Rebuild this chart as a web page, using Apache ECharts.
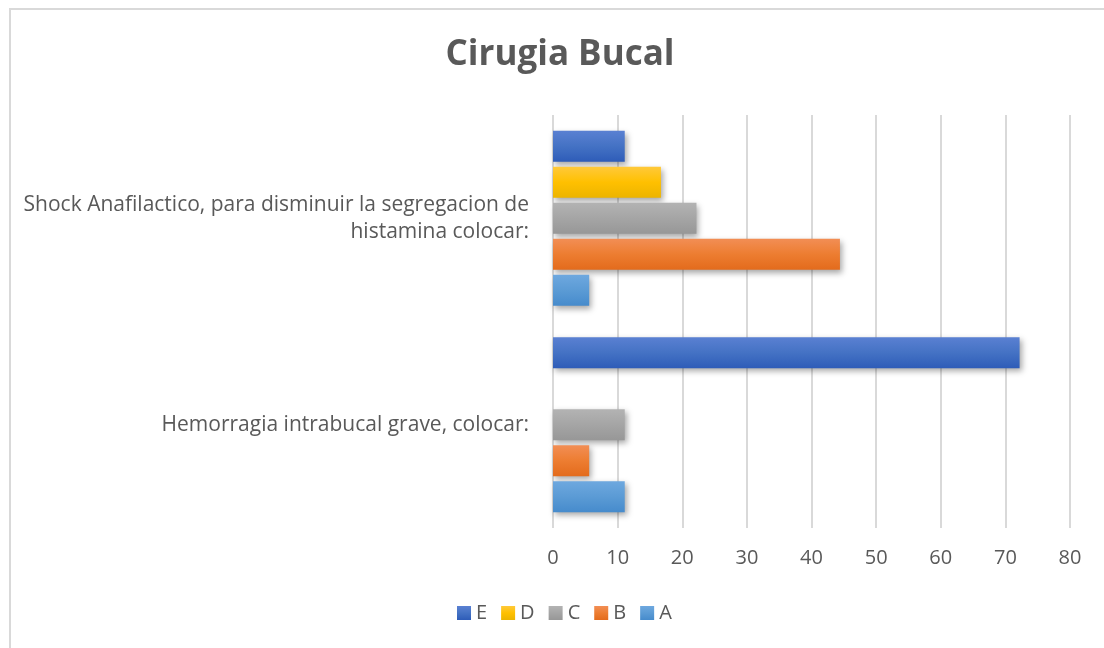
<!DOCTYPE html>
<html>
<head>
<meta charset="utf-8">
<script src="https://cdn.jsdelivr.net/npm/echarts@6/dist/echarts.min.js"></script>
<style>
html,body{margin:0;padding:0;background:#fff;}
#frame{position:absolute;left:9px;top:8px;width:1110px;height:660px;border:2px solid #d9d9d9;box-sizing:border-box;}
#chart{position:absolute;left:0;top:0;width:1104px;height:648px;}
</style>
</head>
<body>
<div id="frame"></div>
<div id="chart"></div>
<script>
const categories = ['Hemorragia intrabucal grave, colocar:', 'Shock Anafilactico, para disminuir la segregacion de\nhistamina colocar:'];
const seriesNames = ['E', 'D', 'C', 'B', 'A'];
const valuesE = [72.2, 11.1];
const valuesD = [0, 16.7];
const valuesC = [11.1, 22.2];
const valuesB = [5.6, 44.4];
const valuesA = [11.1, 5.6];
const xTicks = [0, 10, 20, 30, 40, 50, 60, 70, 80];

const seriesValues = [valuesE, valuesD, valuesC, valuesB, valuesA];
const colors = [
  ['#5a80d2', '#4472c4', '#2e5cb8'],
  ['#ffc93a', '#ffc000', '#ecb400'],
  ['#b3b3b3', '#a5a5a5', '#979797'],
  ['#f28e55', '#ed7d31', '#e36b1c'],
  ['#6ea8df', '#5b9bd5', '#468bcc']
];
const FONT = 'Open Sans';
const chart = echarts.init(document.getElementById('chart'), null, {renderer: 'canvas'});
chart.setOption({
  backgroundColor: 'transparent',
  animation: false,
  title: {
    text: 'Cirugia Bucal',
    left: 555, top: 33, textAlign: 'center',
    textStyle: {fontFamily: 'Open Sans', fontWeight: 'bold', fontSize: 35, color: '#595959'}
  },
  legend: {
    data: seriesNames,
    left: 452, top: 598,
    itemWidth: 14, itemHeight: 14, itemGap: 14,
    textStyle: {fontFamily: FONT, fontSize: 20, color: '#595959'},
    icon: 'rect'
  },
  grid: {left: 553, right: 34, top: 115, bottom: 120, containLabel: false},
  xAxis: {
    type: 'value', min: 0, max: 80, interval: 10,
    axisLine: {show: false}, axisTick: {show: false},
    splitLine: {show: true, lineStyle: {color: '#d9d9d9', width: 2}},
    axisLabel: {fontFamily: FONT, fontSize: 20, color: '#595959', margin: 20,
      formatter: v => xTicks.includes(v) ? String(v) : ''}
  },
  yAxis: {
    type: 'category', data: categories,
    axisLine: {show: false}, axisTick: {show: false},
    axisLabel: {fontFamily: FONT, fontSize: 21, color: '#595959', margin: 24, lineHeight: 27, align: 'right'}
  },
  series: seriesNames.map((n, i) => ({
    name: n, type: 'bar', data: seriesValues[i],
    barWidth: 31, barGap: '16%', barCategoryGap: '16%',
    itemStyle: {
      color: new echarts.graphic.LinearGradient(0, 0, 0, 1, [
        {offset: 0, color: colors[i][0]},
        {offset: 0.5, color: colors[i][1]},
        {offset: 1, color: colors[i][2]}
      ]),
      shadowColor: 'rgba(0,0,0,0.35)', shadowBlur: 6, shadowOffsetX: 2, shadowOffsetY: 3
    }
  }))
});
</script>
</body>
</html>
